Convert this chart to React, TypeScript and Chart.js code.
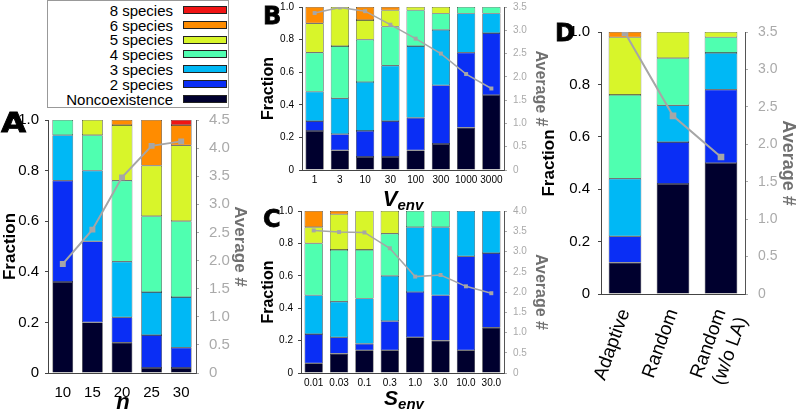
import React, { useEffect, useRef } from 'react';
import { Chart, registerables } from 'chart.js';

Chart.register(...registerables);

const FONT = '"Liberation Sans", Arial, sans-serif';
const LETTER_FONT = '"DejaVu Sans", "Liberation Sans", sans-serif';

// ---------- shared series definitions ----------
const speciesNames = ['Noncoexistence', '2 species', '3 species', '4 species', '5 species', '6 species', '8 species'];
const speciesColors = ['#00002e', '#0a2ef5', '#00b8f5', '#4fffb0', '#d8f52a', '#ff8c00', '#f01414'];

// ---------- Panel A (n) ----------
const aCategories = ['10', '15', '20', '25', '30'];
const aNon = [0.36, 0.2, 0.12, 0.02, 0.02];
const a2 = [0.4, 0.32, 0.1, 0.13, 0.08];
const a3 = [0.18, 0.28, 0.22, 0.17, 0.2];
const a4 = [0.06, 0.14, 0.32, 0.3, 0.3];
const a5 = [0, 0.06, 0.22, 0.2, 0.3];
const a6 = [0, 0, 0.02, 0.18, 0.08];
const a8 = [0, 0, 0, 0, 0.02];
const aAvg = [1.94, 2.55, 3.48, 4.04, 4.12];

// ---------- Panel B (V_env) ----------
const bCategories = ['1', '3', '10', '30', '100', '300', '1000', '3000'];
const bNon = [0.24, 0.12, 0.08, 0.08, 0.12, 0.16, 0.26, 0.46];
const b2 = [0.06, 0.1, 0.16, 0.22, 0.2, 0.36, 0.46, 0.38];
const b3 = [0.18, 0.22, 0.3, 0.34, 0.44, 0.34, 0.24, 0.12];
const b4 = [0.24, 0.32, 0.26, 0.24, 0.22, 0.1, 0.04, 0.04];
const b5 = [0.18, 0.24, 0.12, 0.1, 0.02, 0.04, 0, 0];
const b6 = [0.1, 0, 0.08, 0.02, 0, 0, 0, 0];
const b8 = [0, 0, 0, 0, 0, 0, 0, 0];
const bAvg = [3.37, 3.49, 3.41, 3.12, 2.82, 2.5, 2.06, 1.75];

// ---------- Panel C (S_env) ----------
const cCategories = ['0.01', '0.03', '0.1', '0.3', '1.0', '3.0', '10.0', '30.0'];
const cNon = [0.06, 0.12, 0.14, 0.14, 0.22, 0.2, 0.14, 0.28];
const c2 = [0.18, 0.1, 0.04, 0.18, 0.28, 0.28, 0.58, 0.46];
const c3 = [0.24, 0.22, 0.28, 0.28, 0.4, 0.42, 0.28, 0.26];
const c4 = [0.32, 0.32, 0.3, 0.26, 0.1, 0.1, 0, 0];
const c5 = [0.1, 0.22, 0.24, 0.14, 0, 0, 0, 0];
const c6 = [0.1, 0.02, 0, 0, 0, 0, 0, 0];
const c8 = [0, 0, 0, 0, 0, 0, 0, 0];
const cAvg = [3.52, 3.48, 3.47, 3.08, 2.38, 2.42, 2.14, 1.97];

// ---------- Panel D (strategy) ----------
const dCategories: (string | string[])[] = ['Adaptive', 'Random', ['Random', '(w/o LA)']];
const dNon = [0.12, 0.42, 0.5];
const d2 = [0.1, 0.16, 0.28];
const d3 = [0.22, 0.14, 0.14];
const d4 = [0.32, 0.18, 0.06];
const d5 = [0.22, 0.1, 0.02];
const d6 = [0.02, 0, 0];
const d8 = [0, 0, 0];
const dAvg = [3.49, 2.38, 1.83];

type Spec = {
  labels: (string | string[])[];
  series: number[][];
  avg: number[];
  y2Max: number;
  box: { left: number; top: number; width: number; height: number };
  padTop: number;
  leftW: number;
  rightW: number;
  bottomH: number;
  barPct: number;
  xTick: number;
  xPad: number;
  xRot: number;
  yTick: number;
  yPad: number;
  y2Tick: number;
  y2Pad: number;
  yTitle: number;
  yTitlePad: number;
  y2Title: number;
  y2TitlePad: number;
  pointR: number;
  lineW: number;
};

const fixW = (w: number) => (s: any) => {
  s.width = w;
  s.paddingLeft = 0; s.paddingRight = 0; s.paddingTop = 0; s.paddingBottom = 0;
};
const fixH = (h: number) => (s: any) => {
  s.height = h;
  s.paddingLeft = 0; s.paddingRight = 0; s.paddingTop = 0; s.paddingBottom = 0;
};

function buildConfig(spec: Spec): any {
  const datasets: any[] = spec.series.map((vals, i) => ({
    type: 'bar',
    label: speciesNames[i],
    data: vals,
    backgroundColor: speciesColors[i],
    borderColor: '#1a1a1a',
    borderWidth: 0.6,
    borderSkipped: false,
    barPercentage: spec.barPct,
    categoryPercentage: 1,
    yAxisID: 'y',
    stack: 's',
    order: 1,
  }));
  datasets.push({
    type: 'line',
    label: 'Average #',
    data: spec.avg,
    yAxisID: 'y2',
    borderColor: '#a6a6a6',
    backgroundColor: '#a6a6a6',
    borderWidth: spec.lineW,
    pointStyle: 'rect',
    pointRadius: spec.pointR,
    pointBorderWidth: 0,
    pointBackgroundColor: '#a6a6a6',
    tension: 0,
    order: 0,
  });
  return {
    type: 'bar',
    data: { labels: spec.labels, datasets },
    options: {
      responsive: false,
      animation: false,
      devicePixelRatio: 1,
      layout: { padding: { top: spec.padTop, left: 0, right: 0, bottom: 0 } },
      plugins: { legend: { display: false }, tooltip: { enabled: false }, title: { display: false } },
      scales: {
        x: {
          type: 'category',
          offset: true,
          stacked: true,
          grid: { display: false, drawTicks: false },
          border: { display: true, color: '#444', width: 1 },
          ticks: {
            font: { family: FONT, size: spec.xTick },
            color: '#000',
            padding: spec.xPad,
            minRotation: spec.xRot,
            maxRotation: spec.xRot,
            autoSkip: false,
          },
          afterFit: fixH(spec.bottomH),
        },
        y: {
          position: 'left',
          stacked: true,
          min: 0,
          max: 1,
          ticks: { stepSize: 0.2, font: { family: FONT, size: spec.yTick }, color: '#000', padding: spec.yPad },
          grid: { drawOnChartArea: false, drawTicks: true, tickLength: 3, color: '#444' },
          border: { display: true, color: '#444', width: 1 },
          title: {
            display: true,
            text: 'Fraction',
            color: '#000',
            font: { family: FONT, size: spec.yTitle, weight: 'bold' },
            padding: { top: spec.yTitlePad, bottom: 0 },
          },
          afterFit: fixW(spec.leftW),
        },
        y2: {
          position: 'right',
          min: 0,
          max: spec.y2Max,
          ticks: { stepSize: 0.5, font: { family: FONT, size: spec.y2Tick }, color: '#aaaaaa', padding: spec.y2Pad },
          grid: { drawOnChartArea: false, drawTicks: true, tickLength: 3, color: '#aaaaaa' },
          border: { display: true, color: '#555', width: 1 },
          title: {
            display: true,
            text: 'Average #',
            color: '#707070',
            font: { family: FONT, size: spec.y2Title, weight: 'bold' },
            padding: { top: spec.y2TitlePad, bottom: 0 },
          },
          afterFit: fixW(spec.rightW),
        },
      },
    },
  };
}

function Panel({ spec }: { spec: Spec }) {
  const ref = useRef<HTMLCanvasElement>(null);
  useEffect(() => {
    const chart = new Chart(ref.current as HTMLCanvasElement, buildConfig(spec));
    return () => chart.destroy();
  }, []);
  const b = spec.box;
  return (
    <canvas
      ref={ref}
      width={b.width}
      height={b.height}
      style={{ position: 'absolute', left: b.left, top: b.top, width: b.width, height: b.height }}
    />
  );
}

const specA: Spec = {
  labels: aCategories,
  series: [aNon, a2, a3, a4, a5, a6, a8],
  avg: aAvg,
  y2Max: 4.5,
  box: { left: 0, top: 110, width: 252, height: 302 },
  padTop: 10, leftW: 48, rightW: 56, bottomH: 39,
  barPct: 0.7,
  xTick: 15, xPad: 11, xRot: 0,
  yTick: 15, yPad: 6, y2Tick: 15, y2Pad: 10,
  yTitle: 17, yTitlePad: 0, y2Title: 17, y2TitlePad: 2,
  pointR: 4.2, lineW: 2,
};

const specB: Spec = {
  labels: bCategories,
  series: [bNon, b2, b3, b4, b5, b6, b8],
  avg: bAvg,
  y2Max: 3.5,
  box: { left: 255, top: 0, width: 300, height: 210 },
  padTop: 7, leftW: 47, rightW: 51, bottomH: 40,
  barPct: 0.72,
  xTick: 10, xPad: 4, xRot: 0,
  yTick: 10, yPad: 5, y2Tick: 10, y2Pad: 6,
  yTitle: 16, yTitlePad: 4.4, y2Title: 16, y2TitlePad: 5.4,
  pointR: 2.8, lineW: 1.5,
};

const specC: Spec = {
  labels: cCategories,
  series: [cNon, c2, c3, c4, c5, c6, c8],
  avg: cAvg,
  y2Max: 4,
  box: { left: 255, top: 200, width: 300, height: 212 },
  padTop: 11, leftW: 46, rightW: 51, bottomH: 39,
  barPct: 0.72,
  xTick: 10, xPad: 4, xRot: 0,
  yTick: 10, yPad: 5, y2Tick: 10, y2Pad: 6,
  yTitle: 16, yTitlePad: 4.4, y2Title: 16, y2TitlePad: 5.4,
  pointR: 2.8, lineW: 1.5,
};

const specD: Spec = {
  labels: dCategories,
  series: [dNon, d2, d3, d4, d5, d6, d8],
  avg: dAvg,
  y2Max: 3.5,
  box: { left: 530, top: 20, width: 270, height: 392 },
  padTop: 12, leftW: 71, rightW: 55, bottomH: 118,
  barPct: 0.68,
  xTick: 19, xPad: 12, xRot: 70,
  yTick: 15, yPad: 8, y2Tick: 14, y2Pad: 10,
  yTitle: 17, yTitlePad: 8.8, y2Title: 18, y2TitlePad: 1.2,
  pointR: 4.7, lineW: 2,
};

function PanelLetter({ text, left, capTop, size, sx }: { text: string; left: number; capTop: number; size: number; sx: number }) {
  return (
    <div
      style={{
        position: 'absolute',
        left,
        top: capTop - 0.117 * size,
        fontFamily: LETTER_FONT,
        fontWeight: 'bold',
        fontSize: size,
        lineHeight: `${size}px`,
        color: '#000',
        WebkitTextStroke: '0.8px #000',
        transform: `scaleX(${sx})`,
        transformOrigin: 'left top',
      }}
    >
      {text}
    </div>
  );
}

function XTitle({ cx, baseline, main, sub, size, subSize }: { cx: number; baseline: number; main: string; sub?: string; size: number; subSize?: number }) {
  return (
    <div
      style={{
        position: 'absolute',
        left: cx - 100,
        width: 200,
        top: baseline - 0.8465 * size,
        textAlign: 'center',
        fontFamily: FONT,
        fontStyle: 'italic',
        fontWeight: 'bold',
        fontSize: size,
        lineHeight: `${size}px`,
        whiteSpace: 'nowrap',
        color: '#000',
      }}
    >
      {main}
      {sub ? <span style={{ fontSize: subSize, verticalAlign: -4, lineHeight: 0 }}>{sub}</span> : null}
    </div>
  );
}

function Legend() {
  const order = [6, 5, 4, 3, 2, 1, 0];
  return (
    <>
      <div
        style={{
          position: 'absolute', left: 47, top: 0, width: 182, height: 108,
          border: '1px solid #999', boxSizing: 'border-box', background: '#fff',
        }}
      />
      {order.map((idx, i) => {
        const baseline = 15.5 + 14.83 * i;
        return (
          <React.Fragment key={idx}>
            <div
              style={{
                position: 'absolute', left: 50, width: 123, top: baseline - 0.8465 * 15,
                textAlign: 'right', fontFamily: FONT, fontSize: 15, lineHeight: '15px', color: '#000', whiteSpace: 'nowrap',
              }}
            >
              {speciesNames[idx]}
            </div>
            <div
              style={{
                position: 'absolute', left: 183, top: baseline - 9.5, width: 44, height: 8,
                background: speciesColors[idx], border: '1px solid #222', boxSizing: 'border-box',
              }}
            />
          </React.Fragment>
        );
      })}
    </>
  );
}

export default function App() {
  return (
    <div style={{ position: 'fixed', left: 0, top: 0, width: 800, height: 412, background: '#fff', overflow: 'hidden' }}>
      <Panel spec={specA} />
      <Panel spec={specB} />
      <Panel spec={specC} />
      <Panel spec={specD} />
      <Legend />
      <PanelLetter text="A" left={1} capTop={112.3} size={27} sx={1.2} />
      <PanelLetter text="B" left={263} capTop={6.7} size={24} sx={1} />
      <PanelLetter text="C" left={263} capTop={210} size={24} sx={1} />
      <PanelLetter text="D" left={555} capTop={24} size={24} sx={1} />
      <XTitle cx={123} baseline={410} main="n" size={22} />
      <XTitle cx={403} baseline={207} main="V" sub="env" size={22} subSize={15} />
      <XTitle cx={404} baseline={405} main="S" sub="env" size={21} subSize={15} />
    </div>
  );
}
